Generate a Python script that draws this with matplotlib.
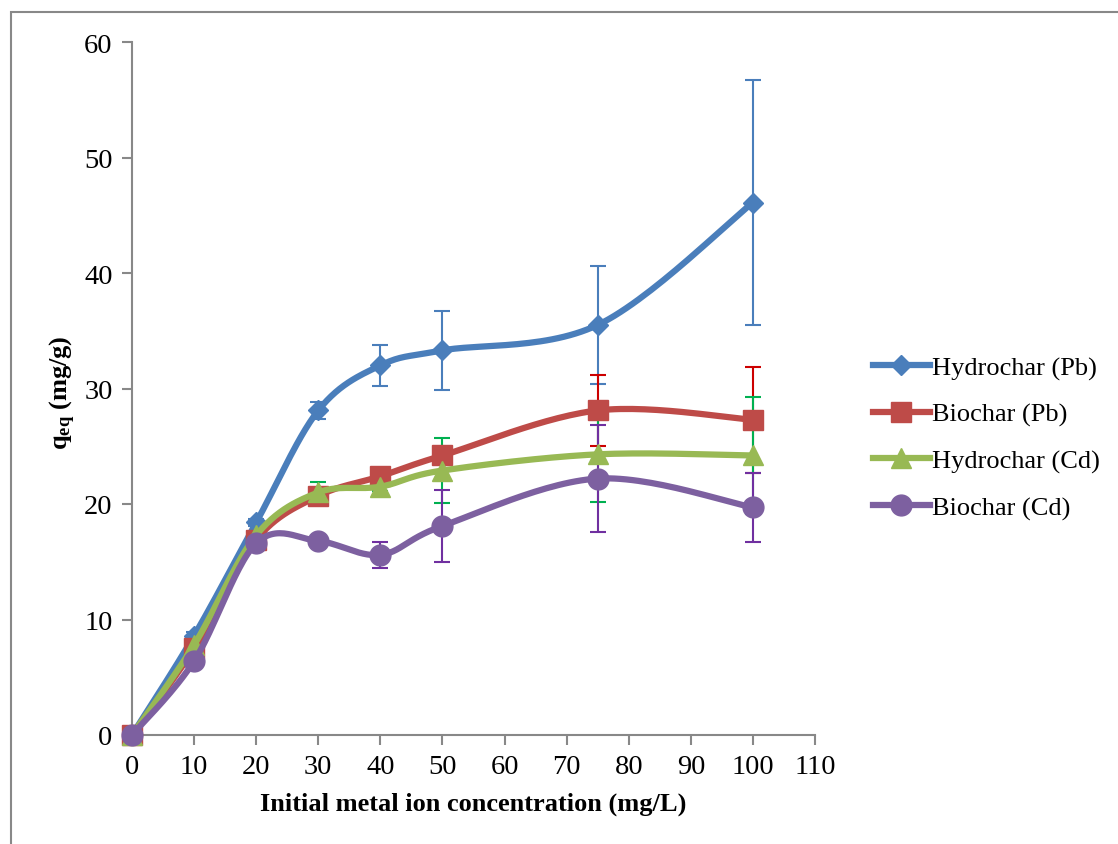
import numpy as np
import matplotlib
matplotlib.use("Agg")
import matplotlib.pyplot as plt
from matplotlib.lines import Line2D
from matplotlib.patches import Rectangle

plt.rcParams['font.family'] = ['Liberation Serif', 'DejaVu Serif']
plt.rcParams['mathtext.fontset'] = 'custom'
plt.rcParams['mathtext.rm'] = 'Liberation Serif'
plt.rcParams['mathtext.bf'] = 'Liberation Serif:bold'

# --- data ---
conc = [0, 10, 20, 30, 40, 50, 75, 100]

hydro_pb = [0, 8.6, 18.4, 28.1, 32.0, 33.3, 35.5, 46.1]
hydro_pb_err = [0, 0.3, 0.3, 0.7, 1.8, 3.4, 5.1, 10.6]

bio_pb = [0, 7.5, 16.9, 20.7, 22.4, 24.2, 28.1, 27.3]
bio_pb_err = [0, 0.3, 0.3, 0.4, 0.4, 0.7, 3.1, 4.6]

hydro_cd = [0, 7.8, 17.3, 21.0, 21.5, 22.9, 24.3, 24.2]
hydro_cd_err = [0, 0.3, 0.3, 0.9, 0.4, 2.85, 4.1, 5.1]

bio_cd = [0, 6.4, 16.6, 16.8, 15.6, 18.1, 22.2, 19.7]
bio_cd_err = [0, 0.3, 0.3, 0.3, 1.1, 3.1, 4.6, 3.0]

names = ['Hydrochar (Pb)', 'Biochar (Pb)', 'Hydrochar (Cd)', 'Biochar (Cd)']
colors = ['#4a7ebb', '#be4b48', '#98b954', '#7d60a0']
err_colors = ['#4a7ebb', '#cc0000', '#00b050', '#7030a0']
markers = ['D', 's', '^', 'o']
msizes = [10, 14, 14, 15]


def smooth(x, y, xr, yr, n=30):
    # Excel-like smoothed line (Catmull-Rom through the points, in axis-scaled space)
    px = np.array(x, float) / xr
    py = np.array(y, float) / yr
    P = np.column_stack([px, py])
    P = np.vstack([P[0], P, P[-1]])
    out = []
    for i in range(1, len(P) - 2):
        p0, p1, p2, p3 = P[i - 1], P[i], P[i + 1], P[i + 2]
        t = np.linspace(0, 1, n)[:, None]
        c1 = p1 + (p2 - p0) / 6
        c2 = p2 - (p3 - p1) / 6
        seg = ((1 - t) ** 3) * p1 + 3 * ((1 - t) ** 2) * t * c1 + 3 * (1 - t) * t ** 2 * c2 + t ** 3 * p2
        out.append(seg)
    out = np.vstack(out)
    return out[:, 0] * xr, out[:, 1] * yr


fig = plt.figure(figsize=(11.18, 8.45), dpi=100)
ax = fig.add_axes([132 / 1118, 1 - 736 / 845, (815 - 132) / 1118, (736 - 43) / 845])

series = [(hydro_pb, hydro_pb_err), (bio_pb, bio_pb_err), (hydro_cd, hydro_cd_err), (bio_cd, bio_cd_err)]
for k, (vals, errs) in enumerate(series):
    ax.errorbar(conc, vals, yerr=errs, fmt='none', ecolor=err_colors[k], elinewidth=1.5,
                capsize=6, capthick=1.5, zorder=2 + k)
for k, (vals, errs) in enumerate(series):
    sx, sy = smooth(conc, vals, 110 * 683 / 693, 60)
    ax.plot(sx, sy, color=colors[k], lw=4.5, zorder=10 + k, solid_capstyle='round')
    ax.plot(conc, vals, linestyle='none', marker=markers[k], ms=msizes[k], color=colors[k],
            markeredgecolor=colors[k], zorder=10 + k, clip_on=False)

ax.set_xlim(0, 110)
ax.set_ylim(0, 60)
ax.set_xticks(range(0, 111, 10))
ax.set_yticks(range(0, 61, 10))
for s in ['top', 'right']:
    ax.spines[s].set_visible(False)
for s in ['left', 'bottom']:
    ax.spines[s].set_color('#888888')
    ax.spines[s].set_linewidth(1.5)
ax.tick_params(axis='both', direction='out', length=7, width=1.5, color='#888888',
               labelsize=20.5, pad=7)

ax.set_xlabel('Initial metal ion concentration (mg/L)', fontsize=19, fontweight='bold', labelpad=9)
fig.text(63 / 1118, 1 - 393 / 845, r'$\mathbf{q_{eq}}$ (mg/g)', rotation=90, fontsize=19,
         fontweight='bold', ha='center', va='center')

handles = [Line2D([0], [0], color=colors[k], lw=4.5, marker=markers[k], ms=msizes[k])
           for k in range(4)]
fig.legend(handles, names, loc='upper left', bbox_to_anchor=(873 / 1118, 1 - 357 / 845),
           frameon=False, fontsize=19, handlelength=2.15, handletextpad=0.1, labelspacing=0.86,
           borderaxespad=0, borderpad=0)

# chart frame
fig.patches.append(Rectangle((11 / 1118, -0.1), 1.2, 1.1 - 13 / 845, transform=fig.transFigure,
                             fill=False, edgecolor='#888888', lw=1.5))

fig.savefig('out.png', dpi=100)
